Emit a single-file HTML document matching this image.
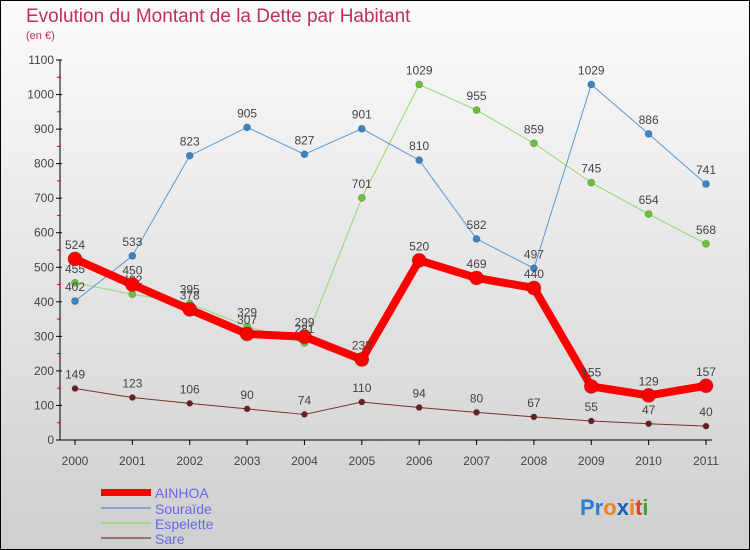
<!DOCTYPE html>
<html><head><meta charset="utf-8"><style>
body{margin:0;width:750px;height:550px;overflow:hidden}
svg{display:block;font-family:"Liberation Sans",sans-serif}
</style></head><body>
<svg id="c" width="750" height="550">
<defs><linearGradient id="bg" x1="0" y1="0" x2="0" y2="1"><stop offset="0" stop-color="#fbfbfb"/><stop offset="1" stop-color="#cfcfcf"/></linearGradient></defs>
<rect x="0.5" y="0.5" width="749" height="549" fill="url(#bg)" stroke="#000"/>
<text x="26" y="22" font-size="19" fill="#c0305a">Evolution du Montant de la Dette par Habitant</text>
<text x="26" y="39" font-size="11" fill="#c0305a">(en €)</text>
<g id="axes"></g><g id="series"></g>
<g>
<rect x="101" y="489" width="50" height="7" fill="#f00"/>
<text x="155" y="498" font-size="14" fill="#6666ee">AINHOA</text>
<line x1="101" y1="508" x2="151" y2="508" stroke="#7fa7c9" stroke-width="2"/>
<text x="155" y="514" font-size="14" fill="#6666ee">Souraïde</text>
<line x1="101" y1="523" x2="151" y2="523" stroke="#9fd87f" stroke-width="2"/>
<text x="155" y="529" font-size="14" fill="#6666ee">Espelette</text>
<line x1="101" y1="538" x2="151" y2="538" stroke="#9b7070" stroke-width="2"/>
<text x="155" y="544" font-size="14" fill="#6666ee">Sare</text>
</g>
<text x="580" y="515" font-size="22" font-weight="bold"><tspan fill="#2a7fd0">Pr</tspan><tspan fill="#f08020">o</tspan><tspan fill="#1a5fb0">x</tspan><tspan fill="#f08020">i</tspan><tspan fill="#e04020">t</tspan><tspan fill="#40a040">i</tspan></text>
</svg>
<script>
const years=["2000","2001","2002","2003","2004","2005","2006","2007","2008","2009","2010","2011"];
const ainhoa=[524,450,378,307,299,233,520,469,440,155,129,157];
const souraide=[402,533,823,905,827,901,810,582,497,1029,886,741];
const espelette=[455,422,395,329,281,701,1029,955,859,745,654,568];
const sare=[149,123,106,90,74,110,94,80,67,55,47,40];
const yTicks=[0,100,200,300,400,500,600,700,800,900,1000,1100];
const NS="http://www.w3.org/2000/svg";
const X=i=>75+i*(706-75)/11, Y=v=>440-v*380/1100;
function mk(t,a,p){const e=document.createElementNS(NS,t);for(const k in a)e.setAttribute(k,a[k]);p.appendChild(e);return e;}
const ax=document.getElementById('axes'), sg=document.getElementById('series');
let l=mk('line',{x1:60,y1:Y(1100),x2:60,y2:440,stroke:'#000'},ax);


l=mk('line',{x1:60,y1:440,x2:712,y2:440,stroke:'#000'},ax);


yTicks.forEach((v,i)=>{
 mk('line',{x1:56,y1:Y(v),x2:62,y2:Y(v),stroke:'#000'},ax);
 if(i<yTicks.length-1)mk('line',{x1:57,y1:Y(v+50),x2:61,y2:Y(v+50),stroke:'#e00'},ax);
 const t=mk('text',{x:54,y:Y(v)+4,'font-size':12,fill:'#444','text-anchor':'end'},ax);t.textContent=v;
 
 
});
years.forEach((y,i)=>{
 mk('line',{x1:X(i),y1:440,x2:X(i),y2:445,stroke:'#000'},ax);
 const t=mk('text',{x:X(i),y:465,'font-size':12,fill:'#444','text-anchor':'middle'},ax);t.textContent=y;
 
 
});
function draw(vals,name,col,w,r,pc){
 const g=mk('g',{},sg);
 
 
 const p=mk('polyline',{points:vals.map((v,i)=>X(i)+','+Y(v)).join(' '),fill:'none',stroke:col,'stroke-width':w,'stroke-linejoin':'round'},g);
 
 
 vals.forEach((v,i)=>{
  const c=mk('circle',{cx:X(i),cy:Y(v),r:r,fill:pc,stroke:'rgba(0,0,0,0.2)'},g);
  
  
  const t=mk('text',{x:X(i),y:Y(v)-10,'font-size':12,fill:'#444','text-anchor':'middle'},g);t.textContent=v;
  
  
 });
}
draw(sare,'sare','#7a3030',1,3,'#6a2020');
draw(espelette,'espelette','#8fd86a',1,3.5,'#6cc23a');
draw(souraide,'souraide','#5b9bd5',1,3.5,'#3a86c8');
draw(ainhoa,'ainhoa','#f00',8,7,'#f00');
</script>
</body></html>
